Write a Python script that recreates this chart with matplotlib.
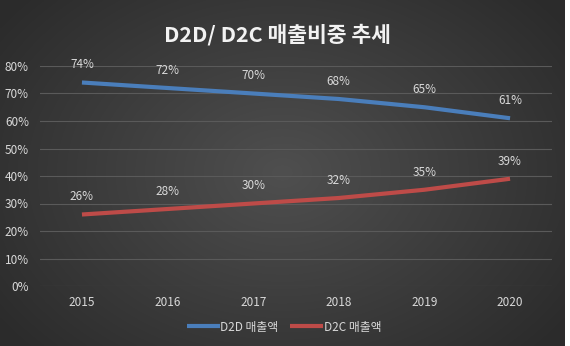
import matplotlib
matplotlib.use("Agg")
import matplotlib.pyplot as plt
import numpy as np

years = ["2015", "2016", "2017", "2018", "2019", "2020"]
d2d = [0.74, 0.72, 0.70, 0.68, 0.65, 0.61]
d2c = [0.26, 0.28, 0.30, 0.32, 0.35, 0.39]
series_names = ["D2D 매출액", "D2C 매출액"]
title = "D2D/ D2C 매출비중 추세"

plt.rcParams['font.family'] = ['Noto Sans CJK KR', 'DejaVu Sans']

W, H = 570, 346
fig = plt.figure(figsize=(W / 100, H / 100), dpi=100, facecolor="white")

# radial gradient backdrop for the chart area
bg = fig.add_axes([0, 0, 565 / W, 1])
bg.set_axis_off()
yy, xx = np.mgrid[0:1:200j, 0:1:300j]
r = np.sqrt(((xx - 0.5) / 0.62) ** 2 + ((yy - 0.5) / 0.75) ** 2)
r = np.clip(r, 0, 1)
shade = 0.31 - 0.14 * r
bg.imshow(np.dstack([shade] * 3), aspect="auto", extent=[0, 1, 0, 1],
          interpolation="bilinear")
bg.set_xlim(0, 1)
bg.set_ylim(0, 1)

ax = fig.add_axes([40 / W, (H - 286) / H, 512 / W, 220 / H])
ax.patch.set_alpha(0)
x = np.arange(len(years))
colors = ["#4a7ebb", "#be4b48"]
for vals, name, c in zip([d2d, d2c], series_names, colors):
    ax.plot(x, vals, color=c, lw=3, solid_capstyle="butt", label=name)
    for xi, v in zip(x, vals):
        ax.annotate("{:.0f}%".format(v * 100), (xi, v), xytext=(0, 8),
                    textcoords="offset points", ha="center", va="bottom",
                    color="#d9d9d9", fontsize=8.5)

ax.set_xlim(-0.49, 5.49)
ax.set_ylim(0, 0.8)
ax.set_yticks(np.arange(0, 0.81, 0.1))
ax.set_yticklabels(["{:.0f}%".format(t * 100) for t in np.arange(0, 0.81, 0.1)])
ax.set_xticks(x)
ax.set_xticklabels(years)
ax.tick_params(colors="#d9d9d9", labelsize=8.5, length=0)
ax.tick_params(axis="y", pad=8)
ax.tick_params(axis="x", pad=7)
for s in ax.spines.values():
    s.set_visible(False)
ax.grid(axis="y", color="#5a5a5a", lw=0.8)
ax.set_axisbelow(True)

fig.text(277 / W, 1 - 35 / H, title, ha="center", va="center",
         color="#f2f2f2", fontsize=15.5, fontweight="bold")

fig.legend(loc="center", bbox_to_anchor=(284 / W, 1 - 327 / H), ncol=2,
           frameon=False, fontsize=8.5, labelcolor="#d9d9d9",
           handlelength=2.8, handletextpad=0.05, columnspacing=1.0)

fig.savefig("out.png", dpi=100, facecolor=fig.get_facecolor())
